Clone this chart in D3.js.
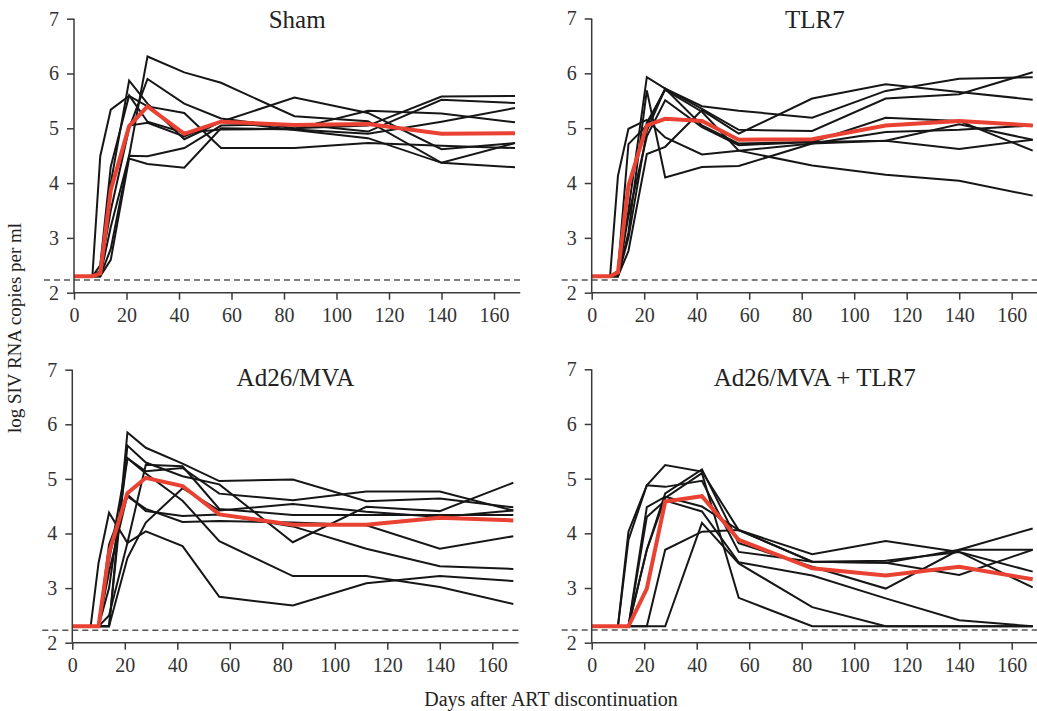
<!DOCTYPE html>
<html><head><meta charset="utf-8">
<script src="https://cdn.jsdelivr.net/npm/d3@7"></script>
<style>body{margin:0;background:#fff;}svg{display:block;}</style>
</head><body>
<svg id="c" width="1037" height="711"></svg>
<script>
// ---- DATA ----
const days = [0, 7, 10, 14, 21, 28, 42, 56, 84, 112, 140, 168];
const yTicks = [2, 3, 4, 5, 6, 7];
const xTicks = [0, 20, 40, 60, 80, 100, 120, 140, 160];
const panelTitles = ["Sham", "TLR7", "Ad26/MVA", "Ad26/MVA + TLR7"];
const LOD = 2.23;

const shamAnimals = [
  [2.3,2.3,2.3,2.8,4.50,6.31,6.02,5.83,5.22,5.13,4.37,4.29],
  [2.3,2.3,2.4,3.5,5.00,5.90,5.45,5.18,5.00,5.05,5.58,5.59],
  [2.3,2.3,4.49,5.34,5.59,5.40,5.28,4.64,4.64,4.73,4.68,4.64],
  [2.3,2.3,2.35,4.0,5.87,5.45,4.80,5.12,5.56,5.28,4.62,4.73],
  [2.3,2.3,2.3,3.2,4.50,4.49,4.64,5.05,5.08,4.94,5.52,5.46],
  [2.3,2.3,2.3,2.6,4.45,4.35,4.28,5.00,4.98,4.90,5.12,5.37],
  [2.3,2.3,2.3,3.9,5.05,5.10,4.85,5.13,4.97,4.82,4.37,4.73],
  [2.3,2.3,2.5,4.3,5.60,5.12,4.92,4.98,4.99,5.32,5.27,5.11]
];
const shamMedian = [2.3,2.3,2.35,3.87,5.04,5.40,4.90,5.12,5.06,5.08,4.90,4.91];

const tlr7Animals = [
  [2.3,2.3,2.3,3.5,5.93,5.72,5.40,5.32,5.19,5.68,5.90,5.93],
  [2.3,2.3,4.13,4.99,5.15,4.83,4.52,4.59,4.72,4.77,4.62,4.79],
  [2.3,2.3,2.3,3.1,5.69,4.10,4.29,4.31,4.72,4.93,4.97,5.05],
  [2.3,2.3,2.4,4.71,5.05,5.72,5.35,4.97,4.95,5.54,5.62,6.02],
  [2.3,2.3,2.3,2.76,4.53,4.66,5.33,4.90,5.54,5.80,5.66,5.52],
  [2.3,2.3,2.3,3.4,4.85,5.51,5.02,4.69,4.75,4.77,5.07,4.79],
  [2.3,2.3,2.35,3.9,5.10,5.70,5.30,4.59,4.32,4.15,4.04,3.77],
  [2.3,2.3,2.3,3.0,4.95,5.72,5.05,4.72,4.75,5.19,5.13,4.59]
];
const tlr7Median = [2.3,2.3,2.37,3.95,5.05,5.17,5.13,4.79,4.80,5.05,5.13,5.05];

const adAnimals = [
  [2.3,2.3,2.3,2.3,5.85,5.57,5.28,4.96,4.99,4.59,4.64,4.48],
  [2.3,2.3,2.3,2.3,5.61,5.30,5.05,4.90,3.84,4.49,4.41,4.93],
  [2.3,2.3,2.3,3.0,5.38,5.14,5.20,4.73,4.61,4.77,4.77,4.42],
  [2.3,2.3,3.46,4.38,3.83,5.26,5.23,4.45,4.34,4.34,4.34,4.34],
  [2.3,2.3,2.3,2.3,3.55,4.20,4.83,4.42,4.54,4.40,4.30,4.42],
  [2.3,2.3,2.3,3.3,4.71,4.41,4.32,4.35,4.13,3.72,3.40,3.35],
  [2.3,2.3,2.3,3.5,5.38,5.10,4.60,3.86,3.22,3.22,3.02,2.71],
  [2.3,2.3,2.3,2.5,3.83,4.04,3.77,2.84,2.68,3.09,3.22,3.13],
  [2.3,2.3,2.3,3.8,4.68,4.45,4.21,4.23,4.20,4.15,3.72,3.95]
];
const adMedian = [2.3,2.3,2.3,3.65,4.74,5.02,4.87,4.35,4.16,4.16,4.29,4.24];

const adTlrAnimals = [
  [2.3,2.3,2.3,4.03,4.88,5.25,5.13,4.06,3.62,3.86,3.66,3.30],
  [2.3,2.3,2.3,3.88,4.88,4.85,4.96,3.66,3.48,3.46,3.70,3.70],
  [2.3,2.3,2.3,2.3,4.48,4.67,4.49,4.06,3.48,3.50,3.66,3.01],
  [2.3,2.3,2.3,2.3,3.70,4.73,5.17,3.82,3.39,2.99,3.70,4.09],
  [2.3,2.3,2.3,2.3,2.3,3.70,4.03,4.06,3.48,3.46,3.24,3.70],
  [2.3,2.3,2.3,2.3,2.3,2.3,4.19,3.45,2.65,2.3,2.3,2.3],
  [2.3,2.3,2.3,2.3,3.70,4.65,5.10,2.82,2.3,2.3,2.3,2.3],
  [2.3,2.3,2.3,2.3,4.30,4.60,4.40,3.47,3.23,2.81,2.41,2.3]
];
const adTlrMedian = [2.3,2.3,2.3,2.3,2.99,4.58,4.68,3.88,3.36,3.23,3.39,3.16];

// ---- LAYOUT ----
const panels = [
  {title: panelTitles[0], animals: shamAnimals, median: shamMedian, x0: 74, y2: 292.7, y7: 18.7, titleY: 28},
  {title: panelTitles[1], animals: tlr7Animals, median: tlr7Median, x0: 591.7, y2: 292.7, y7: 18.5, titleY: 28},
  {title: panelTitles[2], animals: adAnimals, median: adMedian, x0: 72.3, y2: 642.7, y7: 369.7, titleY: 386},
  {title: panelTitles[3], animals: adTlrAnimals, median: adTlrMedian, x0: 591.7, y2: 642.7, y7: 369.3, titleY: 386}
];
const pxPerDay = 2.625;
const FONT = "'Liberation Serif', 'Times New Roman', serif";
const svg = d3.select("#c");

panels.forEach(p => {
  const x = d3.scaleLinear().domain([0, 170]).range([p.x0, p.x0 + 170 * pxPerDay]);
  const y = d3.scaleLinear().domain([2, 7]).range([p.y2, p.y7]);
  const g = svg.append("g");

  // dashed detection limit
  g.append("line")
    .attr("x1", p.x0 - 30).attr("x2", x(170))
    .attr("y1", y(LOD)).attr("y2", y(LOD))
    .attr("stroke", "#555").attr("stroke-width", 1.5)
    .attr("stroke-dasharray", "6,4");

  const line = d3.line().x((d, i) => x(days[i])).y(d => y(d));
  g.selectAll("path.animal").data(p.animals).join("path")
    .attr("class", "animal")
    .attr("d", line)
    .attr("fill", "none").attr("stroke", "#161616").attr("stroke-width", 2)
    .attr("stroke-linejoin", "miter");
  g.append("path").datum(p.median)
    .attr("d", line)
    .attr("fill", "none").attr("stroke", "#ea4232").attr("stroke-width", 4)
    .attr("stroke-linejoin", "miter");

  const ya = g.append("g").attr("transform", `translate(${p.x0},0)`)
    .call(d3.axisLeft(y).tickValues(yTicks).tickSize(7).tickPadding(8).tickFormat(d3.format("d")));
  const xa = g.append("g").attr("transform", `translate(0,${p.y2})`)
    .call(d3.axisBottom(x).tickValues(xTicks).tickSize(7).tickPadding(8).tickFormat(d3.format("d")));
  [ya, xa].forEach(a => {
    a.select(".domain").attr("stroke", "#3a3a3a").attr("stroke-width", 1.5);
    a.selectAll(".tick line").attr("stroke", "#3a3a3a").attr("stroke-width", 1.5);
    a.selectAll(".tick text").attr("fill", "#333").style("font-family", FONT).style("font-size", "20px");
  });
  // remove outer tick extents of domain
  ya.select(".domain").attr("d", `M0,${y(7)}V${y(2)}`);
  xa.select(".domain").attr("d", `M${x(0)},0H${x(170)}`);

  g.append("text")
    .attr("x", x(85)).attr("y", p.titleY)
    .attr("text-anchor", "middle")
    .attr("fill", "#222")
    .style("font-family", FONT).style("font-size", "25px")
    .text(p.title);
});

svg.append("text")
  .attr("x", 551).attr("y", 706)
  .attr("text-anchor", "middle").attr("fill", "#222")
  .style("font-family", FONT).style("font-size", "20px")
  .text("Days after ART discontinuation");

svg.append("text")
  .attr("transform", "translate(21,328) rotate(-90)")
  .attr("text-anchor", "middle").attr("fill", "#222")
  .style("font-family", FONT).style("font-size", "19px")
  .text("log SIV RNA copies per ml");
</script>
</body></html>
